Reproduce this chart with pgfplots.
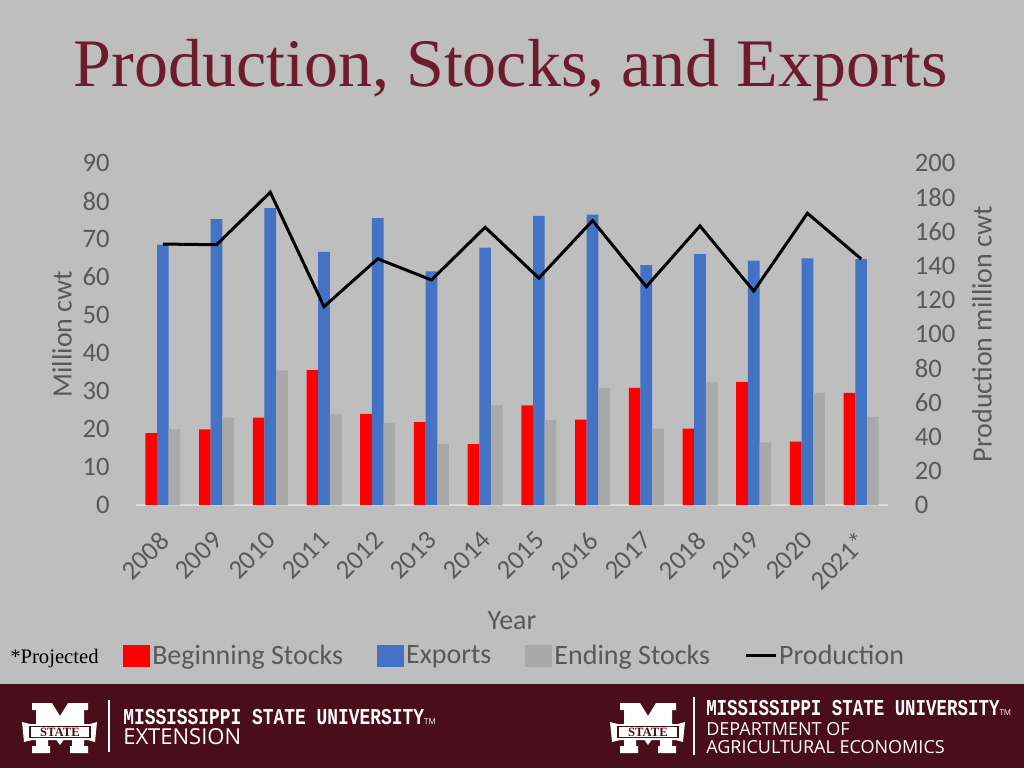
\documentclass[border=0pt]{standalone}
\usepackage{pgfplots}
\usepackage{pgfplotstable}
\pgfplotsset{compat=1.18}
\usepackage{fontspec}
\setmainfont{Carlito}
\newfontfamily\titlefont{Liberation Serif}
\newfontfamily\slabfont{Liberation Mono}
\newfontfamily\osfont{Open Sans}
\definecolor{bg}{HTML}{BEBEBE}
\definecolor{ttl}{HTML}{6E1A2F}
\definecolor{footer}{HTML}{4A0D1A}
\definecolor{txtgray}{HTML}{595959}
\definecolor{bred}{HTML}{FF0000}
\definecolor{bblue}{HTML}{4472C4}
\definecolor{bgray}{HTML}{A9A9A9}
\definecolor{axisline}{HTML}{D9D9D9}

\pgfplotstableread{
x beg exp end prod
0 18.9 68.5 19.9 152.6
1 19.9 75.2 23.0 152.2
2 23.0 78.1 35.4 182.9
3 35.5 66.6 24.0 116.0
4 24.0 75.5 21.6 144.0
5 21.8 61.5 16.0 131.6
6 16.0 67.7 26.2 162.4
7 26.2 76.1 22.4 132.7
8 22.5 76.4 30.8 166.3
9 30.8 63.1 20.1 127.7
10 20.1 66.0 32.4 163.2
11 32.4 64.3 16.5 125.1
12 16.7 64.9 29.5 170.6
13 29.5 64.7 23.2 143.9
}\data

\newcommand{\tfont}{\fontsize{20pt}{24pt}\selectfont}
\newcommand{\lfont}{\fontsize{21pt}{25pt}\selectfont}

\newcommand{\msulogo}{%
  \fill[white] (32,703) -- (52,703) -- (60,716) -- (68,703) -- (88,703) -- (88,710) -- (84,710) -- (84,746) -- (88,746) -- (88,753) -- (70,753) -- (70,746) -- (72,746) -- (72,728) -- (60,745) -- (48,728) -- (48,746) -- (50,746) -- (50,753) -- (32,753) -- (32,746) -- (36,746) -- (36,710) -- (32,710) -- cycle;
  \fill[white] (22,722) -- (30,724) -- (90,724) -- (97,722) -- (95,742) -- (88,740) -- (32,740) -- (24,742) -- cycle;
  \draw[footer, line width=0.8pt] (30,726.5) rectangle (90,737.5);
  \node[text=footer, inner sep=0pt] at (60,732) {\fontsize{9.5pt}{10pt}\titlefont\bfseries STATE};
}

\begin{document}
\begin{tikzpicture}
\path[use as bounding box] (0,0) rectangle (768pt,576pt);
\fill[bg] (0,0) rectangle (768pt,576pt);
\fill[footer] (0,0) rectangle (768pt,63pt);
\begin{scope}[x=0.75pt,y=-0.75pt,shift={(0pt,576pt)}]
  % title
  \node[anchor=base, text=ttl, inner sep=0pt] at (511,87) {\fontsize{51pt}{60pt}\titlefont Production, Stocks, and Exports};
  % projected note
  \node[anchor=base west, inner sep=0pt] at (10,663) {\fontsize{15.5pt}{18pt}\titlefont *Projected};
  % footer left
  \msulogo
  \draw[white, line width=0.8pt] (109,700) -- (109,752);
  \node[anchor=base west, inner sep=0pt, text=white] at (123,724) {\scalebox{0.79}[1]{\fontsize{17pt}{17pt}\slabfont\bfseries MISSISSIPPI STATE UNIVERSITY}\raisebox{0pt}{\fontsize{6pt}{6pt}\osfont TM}};
  \node[anchor=base west, inner sep=0pt, text=white] at (123,744) {\fontsize{16.5pt}{16pt}\osfont EXTENSION};
  % footer right
  \begin{scope}[shift={(588,0)}]
    \msulogo
  \end{scope}
  \draw[white, line width=0.8pt] (694,697) -- (694,755);
  \node[anchor=base west, inner sep=0pt, text=white] at (706,715) {\scalebox{0.77}[1]{\fontsize{17pt}{17pt}\slabfont\bfseries MISSISSIPPI STATE UNIVERSITY}\raisebox{0pt}{\fontsize{6pt}{6pt}\osfont TM}};
  \node[anchor=base west, inner sep=0pt, text=white] at (706,735) {\fontsize{13.5pt}{13pt}\osfont DEPARTMENT OF};
  \node[anchor=base west, inner sep=0pt, text=white] at (706,753) {\fontsize{13.5pt}{13pt}\osfont AGRICULTURAL ECONOMICS};
\end{scope}

\begin{axis}[
  scale only axis, width=564pt, height=256.5pt,
  at={(102pt,197.25pt)}, anchor=south west,
  xmin=-0.5, xmax=13.5, ymin=0, ymax=90,
  ytick={0,10,...,90},
  xtick={0,...,13},
  xticklabels={2008,2009,2010,2011,2012,2013,2014,2015,2016,2017,2018,2019,2020,2021*},
  axis x line*=bottom, axis y line*=left,
  x axis line style={-, draw=axisline, line width=1.2pt},
  y axis line style={draw=none},
  major tick length=0pt, tick style={draw=none},
  /pgf/number format/assume math mode=true,
  ticklabel style={font=\tfont, text=txtgray},
  yticklabel style={anchor=east, inner sep=0pt, xshift=-19.5pt},
  xticklabel style={rotate=45, anchor=north east, inner sep=0pt, xshift=-15.9pt, yshift=-10.4pt},
  ylabel={Million cwt},
  ylabel style={at={(axis description cs:0,0.5)}, anchor=center, yshift=55.5pt, font=\lfont, text=txtgray},
  xlabel={Year},
  xlabel style={at={(axis description cs:0.5,0)}, anchor=center, yshift=-87pt, font=\lfont, text=txtgray},
  ybar=0pt, bar width=8.75pt,
  legend columns=4,
  legend style={at={(axis description cs:0.5,0)}, anchor=center, yshift=-113pt, xshift=2pt,
    draw=none, fill=none, font=\lfont, text=txtgray, nodes={inner sep=1.5pt},
    /tikz/every even column/.append style={column sep=24pt}},
]
\addplot[fill=bred, draw=none, legend image code/.code={\fill[bred] (0pt,-8.25pt) rectangle (20.25pt,8.25pt);}] table[x=x,y=beg]{\data};
\addlegendentry{Beginning Stocks}
\addplot[fill=bblue, draw=none, legend image code/.code={\fill[bblue] (0pt,-8.25pt) rectangle (20.25pt,8.25pt);}] table[x=x,y=exp]{\data};
\addlegendentry{Exports}
\addplot[fill=bgray, draw=none, legend image code/.code={\fill[bgray] (0pt,-8.25pt) rectangle (20.25pt,8.25pt);}] table[x=x,y=end]{\data};
\addlegendentry{Ending Stocks}
\addlegendimage{legend image code/.code={\draw[black, line width=2.25pt] (0pt,0pt) -- (22.5pt,0pt);}}
\addlegendentry{Production}
\end{axis}

\begin{axis}[
  scale only axis, width=564pt, height=256.5pt,
  at={(102pt,197.25pt)}, anchor=south west,
  xmin=-0.5, xmax=13.5, ymin=0, ymax=200,
  ytick={0,20,...,200},
  axis y line*=right, axis x line=none,
  y axis line style={draw=none},
  major tick length=0pt, tick style={draw=none},
  /pgf/number format/assume math mode=true,
  ticklabel style={font=\tfont, text=txtgray},
  yticklabel style={anchor=west, inner sep=0pt, xshift=20pt},
  ylabel={Production million cwt},
  ylabel style={at={(axis description cs:1,0.5)}, anchor=center, yshift=-70.5pt, font=\lfont, text=txtgray},
]
\addplot[black, line width=2.25pt, mark=none] table[x=x,y=prod]{\data};
\end{axis}
\end{tikzpicture}
\end{document}
